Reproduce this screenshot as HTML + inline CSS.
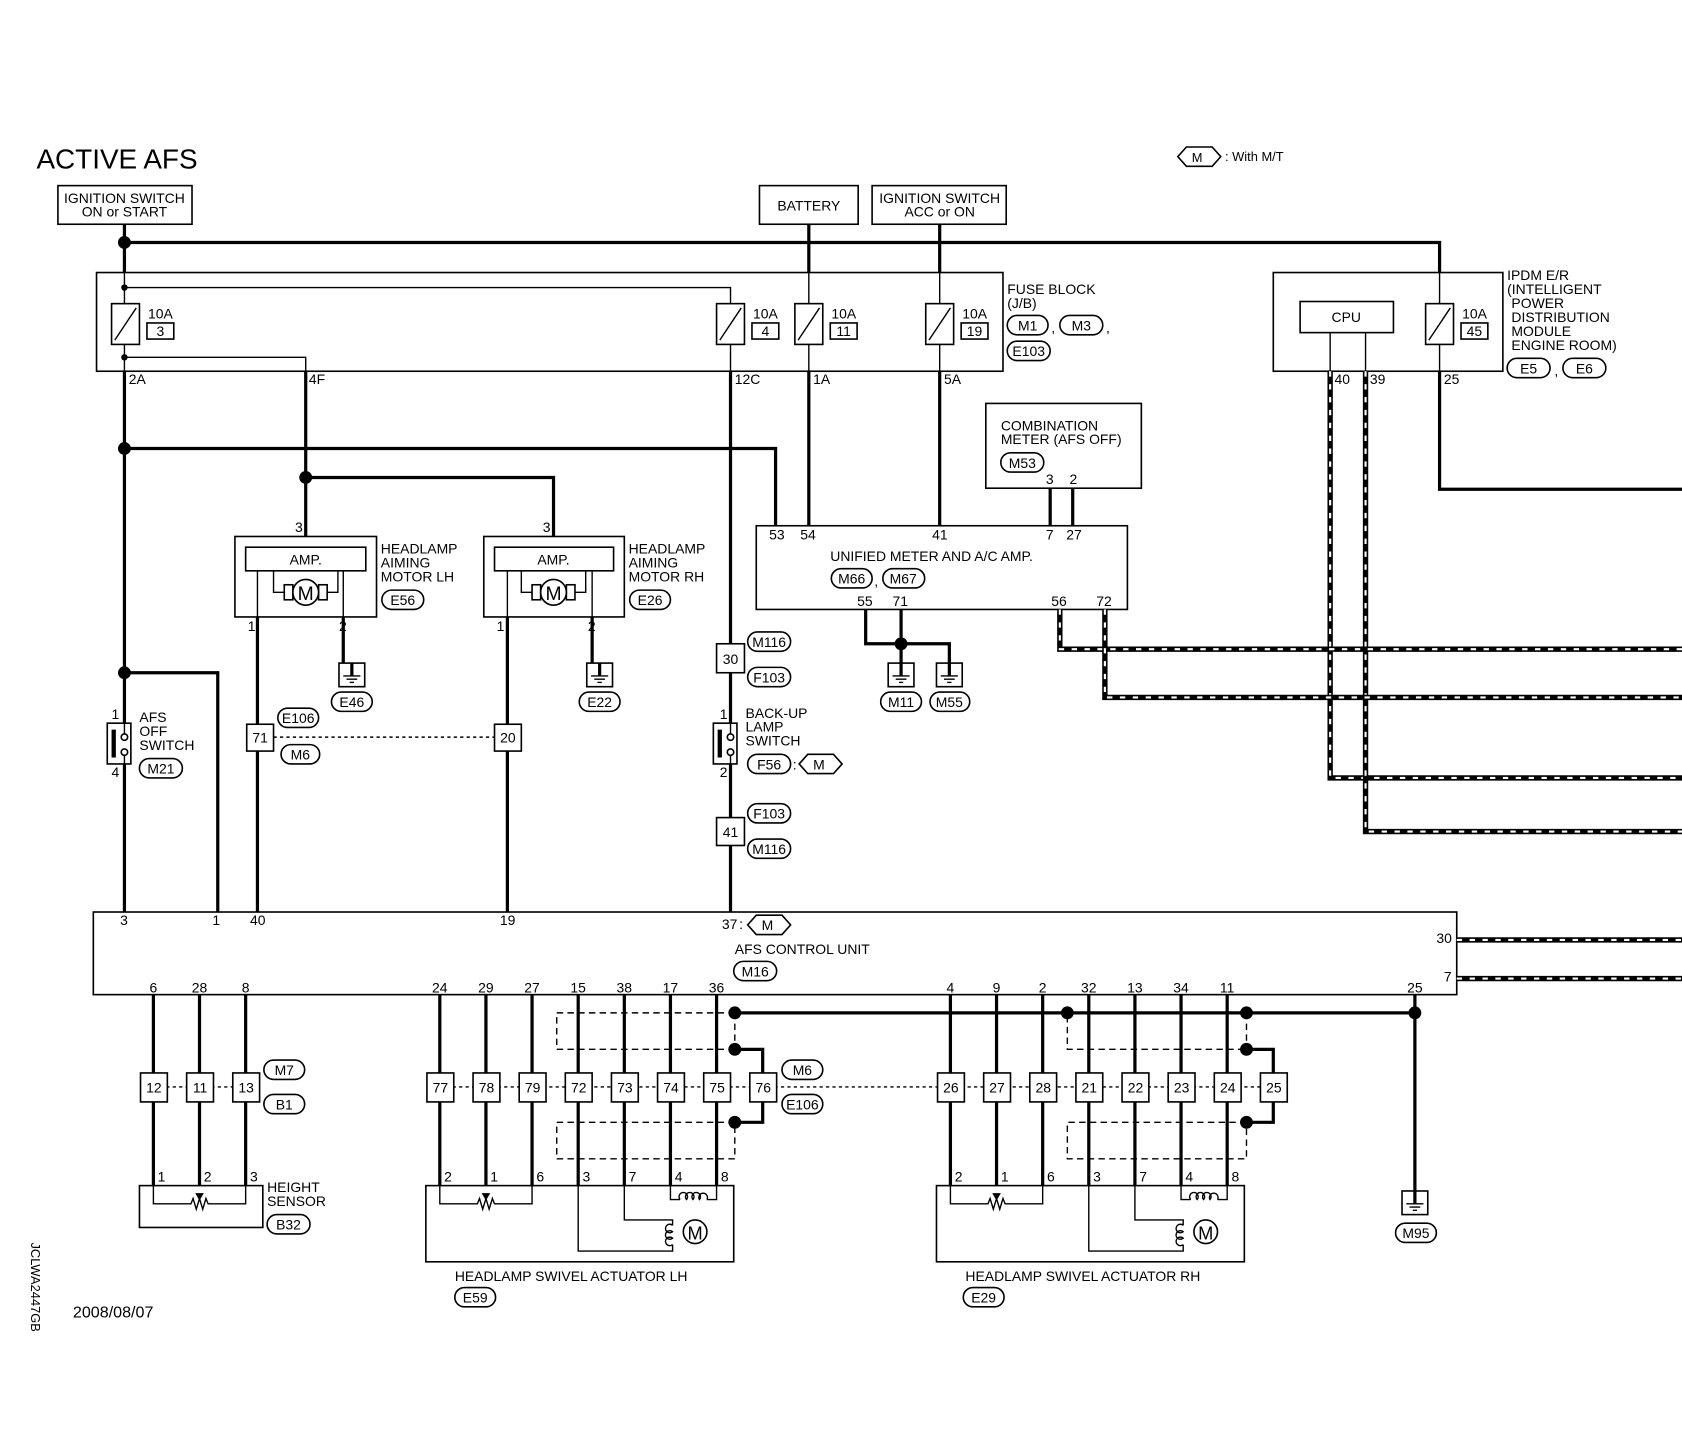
<!DOCTYPE html>
<html><head><meta charset="utf-8">
<style>
html,body{margin:0;padding:0;background:#fff;}
svg{display:block;}
text{font-family:"Liberation Sans",sans-serif;font-size:13px;fill:#000;}
.t{stroke:#000;stroke-width:3;fill:none;}
.n{stroke:#000;stroke-width:1.3;fill:none;}
.d{stroke:#000;stroke-width:1.3;fill:none;stroke-dasharray:6 4;}
.dt{stroke:#000;stroke-width:1.3;fill:none;stroke-dasharray:3 3;}
.sb{stroke:#000;stroke-width:5;fill:none;}
.sw{stroke:#fff;stroke-width:2;fill:none;stroke-dasharray:5 7;}
.box{stroke:#000;stroke-width:1.5;fill:#fff;}
</style></head><body>
<svg width="1682" height="1456" viewBox="0 0 1568 1357" preserveAspectRatio="none" xmlns="http://www.w3.org/2000/svg">
<defs>
<g id="fuse"><rect x="-13" y="0" width="26" height="38" class="box"/><line x1="-10" y1="34" x2="10" y2="4" class="n"/></g>
<g id="gnd"><rect x="-12" y="0" width="24" height="22" class="box"/><line x1="0" y1="0" x2="0" y2="12" class="t"/><line x1="-8" y1="12" x2="8" y2="12" class="n"/><line x1="-5" y1="15" x2="5" y2="15" class="n"/><line x1="-2" y1="18" x2="2" y2="18" class="n"/></g>
</defs>

<text x="34" y="157" style="font-size:26px">ACTIVE AFS</text>
<polygon points="1098,146 1106,137 1130,137 1138,146 1130,155 1106,155" class="box"/>
<text x="1111" y="151" style="font-size:12px">M</text>
<text x="1142" y="150" style="font-size:12px">: With M/T</text>

<!-- source boxes -->
<rect x="54" y="173" width="125" height="36" class="box"/>
<text x="116" y="189" text-anchor="middle">IGNITION SWITCH</text>
<text x="116" y="202" text-anchor="middle">ON or START</text>
<rect x="708" y="173" width="92" height="36" class="box"/>
<text x="754" y="196" text-anchor="middle">BATTERY</text>
<rect x="813" y="173" width="125" height="36" class="box"/>
<text x="876" y="189" text-anchor="middle">IGNITION SWITCH</text>
<text x="876" y="202" text-anchor="middle">ACC or ON</text>

<!-- top bus -->
<polyline points="116,209 116,254" class="t"/>
<polyline points="116,226 1342,226 1342,254" class="t"/>
<circle cx="116" cy="226" r="6"/>
<line x1="754" y1="209" x2="754" y2="254" class="t"/>
<line x1="876" y1="209" x2="876" y2="254" class="t"/>

<!-- fuse block -->
<rect x="90" y="254" width="845" height="92" class="box"/>
<line x1="116" y1="254" x2="116" y2="283" class="n"/>
<circle cx="116" cy="268" r="3"/>
<polyline points="116,268 681,268 681,283" class="n"/>
<line x1="116" y1="321" x2="116" y2="346" class="n"/>
<circle cx="116" cy="333" r="3"/>
<polyline points="116,333 285,333 285,346" class="n"/>
<line x1="681" y1="321" x2="681" y2="346" class="n"/>
<line x1="754" y1="254" x2="754" y2="283" class="n"/>
<line x1="754" y1="321" x2="754" y2="346" class="n"/>
<line x1="876" y1="254" x2="876" y2="283" class="n"/>
<line x1="876" y1="321" x2="876" y2="346" class="n"/>
<use href="#fuse" x="117" y="283"/>
<use href="#fuse" x="681" y="283"/>
<use href="#fuse" x="754" y="283"/>
<use href="#fuse" x="876" y="283"/>
<text x="138" y="297">10A</text><rect x="137" y="301" width="25" height="15" class="box"/><text x="149.5" y="313" text-anchor="middle">3</text>
<text x="702" y="297">10A</text><rect x="701" y="301" width="25" height="15" class="box"/><text x="713.5" y="313" text-anchor="middle">4</text>
<text x="775" y="297">10A</text><rect x="774" y="301" width="25" height="15" class="box"/><text x="786.5" y="313" text-anchor="middle">11</text>
<text x="897" y="297">10A</text><rect x="896" y="301" width="25" height="15" class="box"/><text x="908.5" y="313" text-anchor="middle">19</text>
<text x="939" y="274">FUSE BLOCK</text>
<text x="939" y="287">(J/B)</text>
<rect x="939" y="294" width="38" height="18" rx="9" class="box"/><text x="958" y="308" text-anchor="middle">M1</text>
<text x="980" y="310">,</text>
<rect x="988" y="294" width="40" height="18" rx="9" class="box"/><text x="1008" y="308" text-anchor="middle">M3</text>
<text x="1031" y="310">,</text>
<rect x="939" y="318" width="40" height="18" rx="9" class="box"/><text x="959" y="332" text-anchor="middle">E103</text>
<text x="120" y="358">2A</text><text x="288" y="358">4F</text><text x="685" y="358">12C</text><text x="758" y="358">1A</text><text x="880" y="358">5A</text>

<!-- IPDM -->
<rect x="1187" y="254" width="214" height="92" class="box"/>
<rect x="1212" y="281" width="87" height="29" class="box"/>
<text x="1255" y="300" text-anchor="middle">CPU</text>
<line x1="1240" y1="310" x2="1240" y2="346" class="n"/>
<line x1="1273" y1="310" x2="1273" y2="346" class="n"/>
<line x1="1342" y1="254" x2="1342" y2="283" class="n"/>
<line x1="1342" y1="321" x2="1342" y2="346" class="n"/>
<use href="#fuse" x="1342" y="283"/>
<text x="1363" y="297">10A</text><rect x="1362" y="301" width="25" height="15" class="box"/><text x="1374.5" y="313" text-anchor="middle">45</text>
<text x="1405" y="261">IPDM E/R</text>
<text x="1405" y="274">(INTELLIGENT</text>
<text x="1409" y="287">POWER</text>
<text x="1409" y="300">DISTRIBUTION</text>
<text x="1409" y="313">MODULE</text>
<text x="1409" y="326">ENGINE ROOM)</text>
<rect x="1405" y="334" width="40" height="18" rx="9" class="box"/><text x="1425" y="348" text-anchor="middle">E5</text>
<text x="1449" y="350">,</text>
<rect x="1457" y="334" width="40" height="18" rx="9" class="box"/><text x="1477" y="348" text-anchor="middle">E6</text>
<text x="1244" y="358">40</text><text x="1277" y="358">39</text><text x="1346" y="358">25</text>
<polyline points="1342,346 1342,456 1568,456" class="t"/>
<polyline points="1240,346 1240,725 1568,725" class="sb"/><polyline points="1240,346 1240,725 1568,725" class="sw"/>
<polyline points="1273,346 1273,775 1568,775" class="sb"/><polyline points="1273,346 1273,775 1568,775" class="sw"/>

<!-- main verticals -->
<line x1="116" y1="346" x2="116" y2="674" class="t"/>
<line x1="116" y1="712" x2="116" y2="850" class="t"/>
<circle cx="116" cy="418" r="6"/>
<polyline points="116,418 723,418 723,490" class="t"/>
<line x1="285" y1="346" x2="285" y2="500" class="t"/>
<circle cx="285" cy="445" r="6"/>
<polyline points="285,445 516,445 516,500" class="t"/>
<line x1="681" y1="346" x2="681" y2="600" class="t"/>
<line x1="681" y1="627" x2="681" y2="674" class="t"/>
<line x1="681" y1="712" x2="681" y2="762" class="t"/>
<line x1="681" y1="788" x2="681" y2="850" class="t"/>
<line x1="754" y1="346" x2="754" y2="490" class="t"/>
<line x1="876" y1="346" x2="876" y2="490" class="t"/>

<!-- combination meter -->
<rect x="919" y="376" width="145" height="79" class="box"/>
<text x="933" y="401">COMBINATION</text>
<text x="933" y="414">METER (AFS OFF)</text>
<rect x="933" y="422" width="40" height="18" rx="9" class="box"/><text x="953" y="436" text-anchor="middle">M53</text>
<text x="975" y="451">3</text><text x="997" y="451">2</text>
<line x1="979" y1="455" x2="979" y2="490" class="t"/>
<line x1="1000" y1="455" x2="1000" y2="490" class="t"/>

<!-- unified meter -->
<rect x="705" y="490" width="346" height="78" class="box"/>
<text x="717" y="503">53</text><text x="746" y="503">54</text><text x="869" y="503">41</text><text x="975" y="503">7</text><text x="994" y="503">27</text>
<text x="774" y="523">UNIFIED METER AND A/C AMP.</text>
<rect x="775" y="530" width="38" height="18" rx="9" class="box"/><text x="794" y="544" text-anchor="middle">M66</text>
<text x="815" y="546">,</text>
<rect x="823" y="530" width="39" height="18" rx="9" class="box"/><text x="842" y="544" text-anchor="middle">M67</text>
<text x="799" y="565">55</text><text x="832" y="565">71</text><text x="980" y="565">56</text><text x="1022" y="565">72</text>
<polyline points="807,568 807,600 885,600 885,618" class="t"/>
<line x1="840" y1="568" x2="840" y2="618" class="t"/>
<circle cx="840" cy="600" r="6"/>
<use href="#gnd" x="840" y="618"/><use href="#gnd" x="885" y="618"/>
<rect x="821" y="645" width="38" height="18" rx="9" class="box"/><text x="840" y="659" text-anchor="middle">M11</text>
<rect x="867" y="645" width="37" height="18" rx="9" class="box"/><text x="885" y="659" text-anchor="middle">M55</text>
<polyline points="988,568 988,605 1568,605" class="sb"/><polyline points="988,568 988,605 1568,605" class="sw"/>
<polyline points="1030,568 1030,650 1568,650" class="sb"/><polyline points="1030,568 1030,650 1568,650" class="sw"/>

<!-- aiming motors -->
<g>
<rect x="219" y="500" width="132" height="75" class="box"/>
<rect x="229" y="510" width="112" height="22" class="box"/>
<text x="285" y="526" text-anchor="middle">AMP.</text>
<polyline points="255,532 255,552 265,552" class="n"/><polyline points="315,532 315,552 305,552" class="n"/>
<rect x="265" y="545" width="8" height="14" class="box"/><rect x="297" y="545" width="8" height="14" class="box"/>
<circle cx="285" cy="552" r="12" class="box"/><text x="285" y="559" text-anchor="middle" style="font-size:18px">M</text>
<text x="275" y="496">3</text><text x="231" y="588">1</text><text x="316" y="588">2</text>
<text x="355" y="516">HEADLAMP</text><text x="355" y="529">AIMING</text><text x="355" y="542">MOTOR LH</text>
<rect x="356" y="550" width="39" height="18" rx="9" class="box"/><text x="375.5" y="564" text-anchor="middle">E56</text>
<line x1="240" y1="532" x2="240" y2="575" class="n"/><line x1="320" y1="532" x2="320" y2="575" class="n"/>
<line x1="320" y1="575" x2="320" y2="618" class="t"/>
<use href="#gnd" x="328" y="618"/>
<rect x="309" y="645" width="38" height="18" rx="9" class="box"/><text x="328" y="659" text-anchor="middle">E46</text>
</g>
<g>
<rect x="451" y="500" width="131" height="75" class="box"/>
<rect x="461" y="510" width="111" height="22" class="box"/>
<text x="516" y="526" text-anchor="middle">AMP.</text>
<polyline points="486,532 486,552 496,552" class="n"/><polyline points="546,532 546,552 536,552" class="n"/>
<rect x="496" y="545" width="8" height="14" class="box"/><rect x="528" y="545" width="8" height="14" class="box"/>
<circle cx="516" cy="552" r="12" class="box"/><text x="516" y="559" text-anchor="middle" style="font-size:18px">M</text>
<text x="506" y="496">3</text><text x="463" y="588">1</text><text x="548" y="588">2</text>
<text x="586" y="516">HEADLAMP</text><text x="586" y="529">AIMING</text><text x="586" y="542">MOTOR RH</text>
<rect x="587" y="550" width="38" height="18" rx="9" class="box"/><text x="606" y="564" text-anchor="middle">E26</text>
<line x1="473" y1="532" x2="473" y2="575" class="n"/><line x1="552" y1="532" x2="552" y2="575" class="n"/>
<line x1="552" y1="575" x2="552" y2="618" class="t"/>
<use href="#gnd" x="559" y="618"/>
<rect x="540" y="645" width="38" height="18" rx="9" class="box"/><text x="559" y="659" text-anchor="middle">E22</text>
</g>
<line x1="240" y1="575" x2="240" y2="850" class="t"/>
<line x1="473" y1="575" x2="473" y2="850" class="t"/>
<rect x="230" y="675" width="25" height="25" class="box"/><text x="242.5" y="692" text-anchor="middle">71</text>
<rect x="461" y="675" width="25" height="25" class="box"/><text x="473.5" y="692" text-anchor="middle">20</text>
<line x1="255" y1="687" x2="461" y2="687" class="dt"/>
<rect x="259" y="660" width="38" height="18" rx="9" class="box"/><text x="278" y="674" text-anchor="middle">E106</text>
<rect x="262" y="694" width="36" height="18" rx="9" class="box"/><text x="280" y="708" text-anchor="middle">M6</text>

<!-- AFS OFF switch -->
<circle cx="116" cy="627" r="6"/>
<polyline points="116,627 203,627 203,850" class="t"/>
<rect x="100" y="674" width="22" height="38" class="box"/>
<rect x="104" y="680" width="4" height="26" fill="#000"/>
<line x1="116" y1="674" x2="116" y2="684" class="n"/><line x1="116" y1="703" x2="116" y2="712" class="n"/>
<circle cx="116" cy="687" r="3" class="box"/><circle cx="116" cy="701" r="3" class="box"/>
<text x="104" y="670">1</text><text x="104" y="724">4</text>
<text x="130" y="673">AFS</text><text x="130" y="686">OFF</text><text x="130" y="699">SWITCH</text>
<rect x="130" y="707" width="40" height="18" rx="9" class="box"/><text x="150" y="721" text-anchor="middle">M21</text>

<!-- backup lamp -->
<rect x="668" y="600" width="26" height="27" class="box"/><text x="681" y="619" text-anchor="middle">30</text>
<rect x="697" y="589" width="40" height="18" rx="9" class="box"/><text x="717" y="603" text-anchor="middle">M116</text>
<rect x="697" y="622" width="40" height="18" rx="9" class="box"/><text x="717" y="636" text-anchor="middle">F103</text>
<rect x="665" y="674" width="22" height="38" class="box"/>
<rect x="669" y="680" width="4" height="26" fill="#000"/>
<line x1="681" y1="674" x2="681" y2="684" class="n"/><line x1="681" y1="703" x2="681" y2="712" class="n"/>
<circle cx="681" cy="687" r="3" class="box"/><circle cx="681" cy="701" r="3" class="box"/>
<text x="671" y="670">1</text><text x="671" y="724">2</text>
<text x="695" y="669">BACK-UP</text><text x="695" y="682">LAMP</text><text x="695" y="695">SWITCH</text>
<rect x="697" y="703" width="40" height="18" rx="9" class="box"/><text x="717" y="717" text-anchor="middle">F56</text>
<text x="739" y="717">:</text>
<polygon points="745,712 753,703 777,703 785,712 777,721 753,721" class="box"/><text x="758" y="717">M</text>
<rect x="668" y="762" width="26" height="26" class="box"/><text x="681" y="780" text-anchor="middle">41</text>
<rect x="697" y="749" width="40" height="18" rx="9" class="box"/><text x="717" y="763" text-anchor="middle">F103</text>
<rect x="697" y="782" width="40" height="18" rx="9" class="box"/><text x="717" y="796" text-anchor="middle">M116</text>

<!-- AFS control unit -->
<rect x="87" y="850" width="1271" height="77" class="box"/>
<text x="112" y="862">3</text><text x="198" y="862">1</text><text x="233" y="862">40</text><text x="466" y="862">19</text><text x="673" y="866">37</text><text x="689" y="866">:</text>
<polygon points="697,862 705,853 729,853 737,862 729,871 705,871" class="box"/><text x="710" y="867">M</text>
<text x="685" y="889">AFS CONTROL UNIT</text>
<rect x="684" y="896" width="40" height="18" rx="9" class="box"/><text x="704" y="910" text-anchor="middle">M16</text>
<text x="1339" y="879">30</text><text x="1346" y="915">7</text>
<line x1="1358" y1="876" x2="1568" y2="876" class="sb"/><line x1="1358" y1="876" x2="1568" y2="876" class="sw"/>
<line x1="1358" y1="912" x2="1568" y2="912" class="sb"/><line x1="1358" y1="912" x2="1568" y2="912" class="sw"/>
<g text-anchor="middle">
<text x="143" y="925">6</text><text x="186" y="925">28</text><text x="229" y="925">8</text>
<text x="410" y="925">24</text><text x="453" y="925">29</text><text x="496" y="925">27</text><text x="539" y="925">15</text><text x="582" y="925">38</text><text x="625" y="925">17</text><text x="668" y="925">36</text>
<text x="886" y="925">4</text><text x="929" y="925">9</text><text x="972" y="925">2</text><text x="1015" y="925">32</text><text x="1058" y="925">13</text><text x="1101" y="925">34</text><text x="1144" y="925">11</text><text x="1319" y="925">25</text>
</g>

<!-- wires down -->
<g class="t">
<line x1="143" y1="927" x2="143" y2="1105"/><line x1="186" y1="927" x2="186" y2="1105"/><line x1="229" y1="927" x2="229" y2="1105"/>
<line x1="410" y1="927" x2="410" y2="1105"/><line x1="453" y1="927" x2="453" y2="1105"/><line x1="496" y1="927" x2="496" y2="1105"/><line x1="539" y1="927" x2="539" y2="1105"/><line x1="582" y1="927" x2="582" y2="1105"/><line x1="625" y1="927" x2="625" y2="1105"/><line x1="668" y1="927" x2="668" y2="1105"/>
<line x1="886" y1="927" x2="886" y2="1105"/><line x1="929" y1="927" x2="929" y2="1105"/><line x1="972" y1="927" x2="972" y2="1105"/><line x1="1015" y1="927" x2="1015" y2="1105"/><line x1="1058" y1="927" x2="1058" y2="1105"/><line x1="1101" y1="927" x2="1101" y2="1105"/><line x1="1144" y1="927" x2="1144" y2="1105"/>
<line x1="1319" y1="927" x2="1319" y2="1110"/>
<line x1="685" y1="944" x2="1319" y2="944"/>
<polyline points="685,978 711,978 711,1000"/><polyline points="711,1027 711,1046 685,1046"/>
<polyline points="1162,978 1187,978 1187,1000"/><polyline points="1187,1027 1187,1046 1162,1046"/>
</g>
<g class="d">
<polyline points="685,944 519,944 519,978 685,978"/><line x1="685" y1="944" x2="685" y2="978"/>
<polyline points="685,1046 519,1046 519,1080 685,1080 685,1046"/>
<polyline points="1162,944 995,944 995,978 1162,978"/><line x1="1162" y1="944" x2="1162" y2="978"/>
<polyline points="1162,1046 995,1046 995,1080 1162,1080 1162,1046"/>
</g>
<circle cx="685" cy="944" r="6"/><circle cx="685" cy="978" r="6"/><circle cx="685" cy="1046" r="6"/>
<circle cx="995" cy="944" r="6"/><circle cx="1162" cy="944" r="6"/><circle cx="1162" cy="978" r="6"/><circle cx="1162" cy="1046" r="6"/><circle cx="1319" cy="944" r="6"/>
<use href="#gnd" x="1319" y="1110"/>
<rect x="1301" y="1140" width="38" height="18" rx="9" class="box"/><text x="1320" y="1154" text-anchor="middle">M95</text>

<!-- dotted connector line -->
<line x1="143" y1="1013" x2="229" y2="1013" class="dt"/>
<line x1="410" y1="1013" x2="1187" y2="1013" class="dt"/>
<g class="box">
<rect x="131" y="1000" width="25" height="27"/><rect x="174" y="1000" width="25" height="27"/><rect x="217" y="1000" width="25" height="27"/>
<rect x="398" y="1000" width="25" height="27"/><rect x="441" y="1000" width="25" height="27"/><rect x="484" y="1000" width="25" height="27"/><rect x="527" y="1000" width="25" height="27"/><rect x="570" y="1000" width="25" height="27"/><rect x="613" y="1000" width="25" height="27"/><rect x="656" y="1000" width="25" height="27"/><rect x="699" y="1000" width="25" height="27"/>
<rect x="874" y="1000" width="25" height="27"/><rect x="917" y="1000" width="25" height="27"/><rect x="960" y="1000" width="25" height="27"/><rect x="1003" y="1000" width="25" height="27"/><rect x="1046" y="1000" width="25" height="27"/><rect x="1089" y="1000" width="25" height="27"/><rect x="1132" y="1000" width="25" height="27"/><rect x="1175" y="1000" width="25" height="27"/>
</g>
<g text-anchor="middle">
<text x="143.5" y="1018">12</text><text x="186.5" y="1018">11</text><text x="229.5" y="1018">13</text>
<text x="410.5" y="1018">77</text><text x="453.5" y="1018">78</text><text x="496.5" y="1018">79</text><text x="539.5" y="1018">72</text><text x="582.5" y="1018">73</text><text x="625.5" y="1018">74</text><text x="668.5" y="1018">75</text><text x="711.5" y="1018">76</text>
<text x="886.5" y="1018">26</text><text x="929.5" y="1018">27</text><text x="972.5" y="1018">28</text><text x="1015.5" y="1018">21</text><text x="1058.5" y="1018">22</text><text x="1101.5" y="1018">23</text><text x="1144.5" y="1018">24</text><text x="1187.5" y="1018">25</text>
</g>
<rect x="246" y="988" width="38" height="18" rx="9" class="box"/><text x="265" y="1002" text-anchor="middle">M7</text>
<rect x="246" y="1020" width="38" height="18" rx="9" class="box"/><text x="265" y="1034" text-anchor="middle">B1</text>
<rect x="729" y="988" width="38" height="18" rx="9" class="box"/><text x="748" y="1002" text-anchor="middle">M6</text>
<rect x="729" y="1020" width="38" height="18" rx="9" class="box"/><text x="748" y="1034" text-anchor="middle">E106</text>

<!-- height sensor -->
<rect x="130" y="1105" width="115" height="39" class="box"/>
<polyline points="143,1105 143,1122 178,1122 180,1117 183,1127 186,1117 189,1127 192,1117 194,1122 229,1122 229,1105" class="n"/>
<polygon points="182,1112 190,1112 186,1119" fill="#000"/>
<text x="147" y="1101">1</text><text x="190" y="1101">2</text><text x="233" y="1101">3</text>
<text x="249" y="1111">HEIGHT</text><text x="249" y="1124">SENSOR</text>
<rect x="249" y="1132" width="40" height="18" rx="9" class="box"/><text x="269" y="1146" text-anchor="middle">B32</text>

<!-- swivel actuators -->
<g id="sw">
<rect x="397" y="1105" width="287" height="71" class="box"/>
<polyline points="410,1105 410,1122 445,1122 447,1117 450,1127 453,1117 456,1127 459,1117 461,1122 496,1122 496,1105" class="n"/>
<polygon points="449,1112 457,1112 453,1119" fill="#000"/>
<polyline points="539,1105 539,1166 627,1166 627,1160" class="n"/>
<polyline points="582,1105 582,1137 627,1137 627,1142" class="n"/>
<path d="M627,1142 a4,4 0 1 0 0,6 a4,4 0 1 0 0,6 a4,4 0 1 0 0,6" class="n"/>
<circle cx="648" cy="1148" r="11" class="box"/><text x="648" y="1155" text-anchor="middle" style="font-size:17px">M</text>
<polyline points="625,1105 625,1118 634,1118" class="n"/>
<polyline points="668,1105 668,1118 659,1118" class="n"/>
<path d="M634,1118 a4,4 0 1 1 6,0 a4,4 0 1 1 6,0 a4,4 0 1 1 6,0 a4,4 0 1 1 7,0" class="n"/>
<text x="414" y="1101">2</text><text x="457" y="1101">1</text><text x="500" y="1101">6</text><text x="543" y="1101">3</text><text x="586" y="1101">7</text><text x="629" y="1101">4</text><text x="672" y="1101">8</text>
</g>
<text x="424" y="1194">HEADLAMP SWIVEL ACTUATOR LH</text>
<rect x="424" y="1200" width="38" height="18" rx="9" class="box"/><text x="443" y="1214" text-anchor="middle">E59</text>
<use href="#sw" x="476" y="0"/>
<text x="900" y="1194">HEADLAMP SWIVEL ACTUATOR RH</text>
<rect x="898" y="1200" width="38" height="18" rx="9" class="box"/><text x="917" y="1214" text-anchor="middle">E29</text>

<text x="68" y="1228" style="font-size:15px">2008/08/07</text>
<text transform="translate(29,1158) rotate(90)" style="font-size:12px">JCLWA2447GB</text>
</svg>
</body></html>
